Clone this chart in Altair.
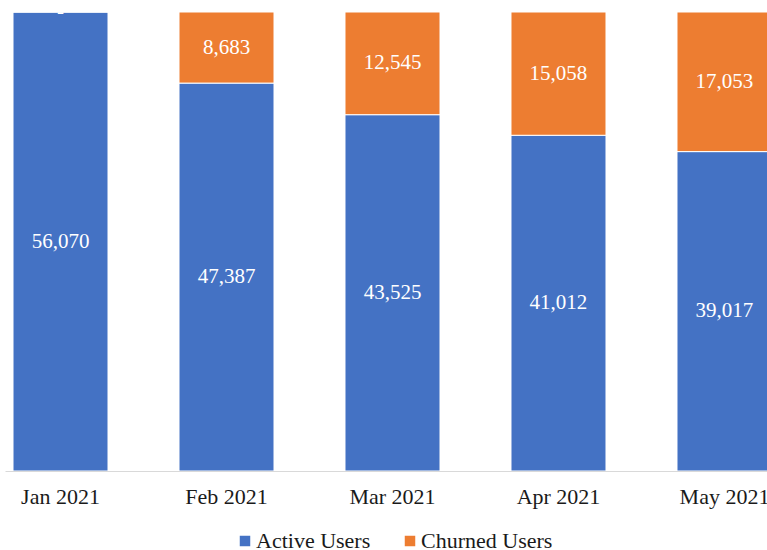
import altair as alt
import pandas as pd

months = ["Jan 2021", "Feb 2021", "Mar 2021", "Apr 2021", "May 2021"]
active = [56070, 47387, 43525, 41012, 39017]
churned = [0, 8683, 12545, 15058, 17053]
series = ["Active Users", "Churned Users"]
colors = ["#4472C4", "#ED7D31"]

rows = []
for m, a, c in zip(months, active, churned):
    rows.append({"month": m, "series": series[0], "value": a, "order": 0})
    rows.append({"month": m, "series": series[1], "value": c, "order": 1})
df = pd.DataFrame(rows)

FONT = "Liberation Serif"

x = alt.X("month:N", sort=months, title=None,
          scale=alt.Scale(range=[0, 775], paddingInner=0.4277, paddingOuter=0.0482),
          axis=alt.Axis(labelAngle=0, ticks=False, domainColor="#D9D9D9", domainWidth=1,
                        labelFont=FONT, labelFontSize=22, labelColor="#1a1a1a",
                        labelPadding=15))

base = alt.Chart(df).transform_stack(
    stack="value", groupby=["month"], as_=["y0", "y1"],
    sort=[alt.SortField("order", order="ascending")]
)

bars = base.mark_bar(stroke="white", strokeWidth=1, clip=True).encode(
    x=x,
    y=alt.Y("y0:Q", scale=alt.Scale(domain=[0, 56070], nice=False, zero=True), axis=None),
    y2="y1:Q",
    color=alt.Color("series:N", scale=alt.Scale(domain=series, range=colors),
                    legend=alt.Legend(title=None, orient="none", direction="horizontal",
                                      legendX=229, legendY=518, symbolType="square",
                                      symbolSize=110, symbolStrokeWidth=0,
                                      labelFont=FONT, labelFontSize=22,
                                      labelColor="#1a1a1a", symbolOffset=0,
                                      labelOffset=0, columnPadding=28)),
)

labels = base.transform_calculate(
    mid="(datum.y0 + datum.y1) / 2",
    label="datum.value == 0 ? '-' : format(datum.value, ',')"
).mark_text(font=FONT, fontSize=21, color="white", clip=True).encode(
    x=x,
    y=alt.Y("mid:Q"),
    text="label:N",
)

chart = alt.layer(bars, labels).properties(
    width=762, height=459,
    autosize=alt.AutoSizeParams(type="none"),
    padding={"left": 5, "top": 12, "right": 0, "bottom": 79},
).configure(font=FONT).configure_view(stroke=None)

chart.save("out.html", embed_options={"renderer": "svg", "actions": False})
